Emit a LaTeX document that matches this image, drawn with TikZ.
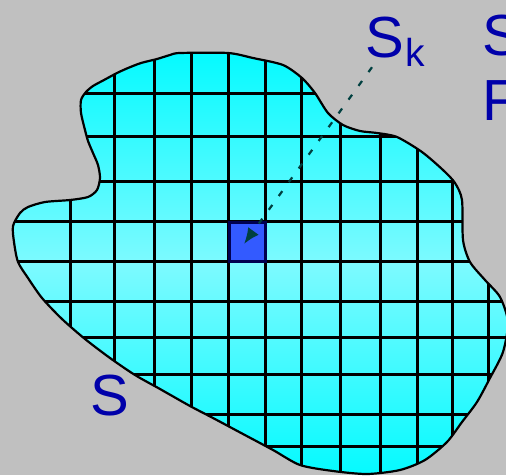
\documentclass[tikz,border=0pt]{standalone}
\usepackage{fontspec}
\setmainfont{Liberation Sans}
\usetikzlibrary{arrows.meta}
\definecolor{bggray}{RGB}{192,192,192}
\definecolor{cyantop}{RGB}{5,250,255}
\definecolor{cyanmid}{RGB}{125,250,255}
\definecolor{cellblue}{RGB}{51,90,255}
\definecolor{navyblue}{RGB}{0,0,80}
\definecolor{txtblue}{RGB}{0,0,170}
\definecolor{darkteal}{RGB}{0,64,64}
\tikzset{
  gridline/.style={black,line width=3pt},
  outline/.style={black,line width=2.2pt},
  cellbox/.style={draw=navyblue,fill=cellblue,line width=3pt,minimum width=36pt,minimum height=39pt,inner sep=0pt},
  lbl/.style={text=txtblue,inner sep=0pt,anchor=base west,font=\fontsize{58}{58}\selectfont},
  pointer/.style={darkteal,line width=2.2pt,dash pattern=on 6pt off 11pt,-{Latex[length=16pt,width=13pt,fill=darkteal]}}
}
\begin{document}
\begin{tikzpicture}[x=1pt,y=-1pt]
\useasboundingbox (0,0) rectangle (506,475);
\fill[bggray] (0,0) rectangle (506,475);
\def\blob{plot[smooth cycle,tension=0.45] coordinates {
(180,53) (228,53) (253,58) (283,65) (302,78) (315,93) (328,113) (343,125) (360,131) (377,133) (397,137) (422,152) (443,170) (455,183) (462,200) (463,240) (470,262) (485,280) (500,297) (508,322) (503,352) (490,378) (477,402) (462,422) (447,442) (425,460) (400,470) (367,474) (333,471) (300,465) (273,450) (243,434) (213,418) (190,406) (160,389) (135,375) (110,358) (85,339) (62,319) (42,298) (28,278) (18,262) (14,242) (13,226) (20,213) (28,207) (45,202) (70,200) (88,197) (97,190) (100,178) (98,165) (93,153) (88,141) (85,130) (81,113) (81,100) (86,92) (93,86) (104,80) (117,73) (128,68) (141,63) (157,59) (170,55)}}
\shade[top color=cyantop,bottom color=cyantop,middle color=cyanmid] \blob;
\begin{scope}
\clip \blob;
\foreach \x in {70,114,154,191,228,265,301,340,380,417,452,488}
  \draw[gridline] (\x,40) -- (\x,480);
\foreach \y in {93,136,181,221,261,301,337,374,414,446}
  \draw[gridline] (0,\y) -- (510,\y);
\end{scope}
\draw[outline] \blob;
\node[cellbox] (sq) at (247,242) {};
\coordinate (tip) at (244,244);
\node[lbl] (sk) at (365,57) {S\hspace{2pt}\raisebox{-9pt}{\fontsize{39}{39}\selectfont k}};
\node[lbl] (s) at (90,415) {S};
\node[lbl] (rs) at (482,55) {S};
\node[lbl] (rf) at (482,120) {F};
\draw[pointer] ([xshift=7pt,yshift=-1pt]sk.south west) -- (tip);
\end{tikzpicture}
\end{document}
